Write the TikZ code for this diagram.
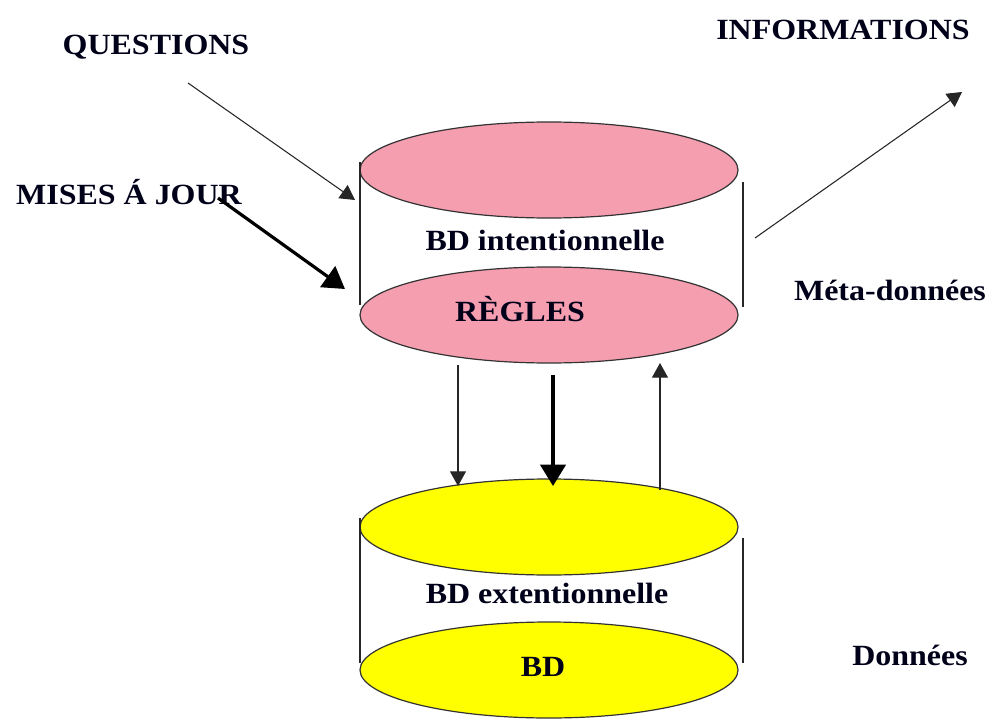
\documentclass[tikz,border=0pt]{standalone}
\usepackage{fontspec}
\setmainfont{Liberation Serif}
\usetikzlibrary{shapes.geometric,arrows.meta}
\definecolor{rosebd}{RGB}{245,158,176}
\definecolor{jaunebd}{RGB}{255,255,0}
\newcommand{\lbl}[1]{\scalebox{1.09}[1]{#1}}
\tikzset{
  disque/.style={ellipse, draw=black!80, line width=0.9pt,
    minimum width=378*0.75pt, minimum height=96*0.75pt, inner sep=0pt},
  rose/.style={disque, fill=rosebd},
  jaune/.style={disque, fill=jaunebd},
  paroi/.style={draw=black!85, line width=0.9pt},
  etiquette/.style={font=\fontsize{22}{26}\selectfont\bfseries, text=black!90!blue, inner sep=0pt},
  fleche/.style={draw=black!85, line width=0.8pt, -{Triangle[length=11pt,width=12pt]}},
  grossefleche/.style={draw=black, line width=2.4pt, -{Triangle[length=16pt,width=19pt]}},
}
\begin{document}
\begin{tikzpicture}[x=0.75pt,y=-0.75pt]
  \useasboundingbox (0,0) rectangle (991,720);

  % upper cylinder: intentional database
  \node[rose] (haut) at (549,170) {};
  \node[rose] (regles) at (549,315) {};
  \draw[paroi] (360,162) coordinate (hg1) -- (360,305) coordinate (hg2);
  \draw[paroi] (743,182) coordinate (hd1) -- (743,307) coordinate (hd2);
  \node[etiquette] (intent) at (545,240) {\lbl{BD intentionnelle}};
  \node[etiquette] (reglestxt) at (520,309) {\lbl{RÈGLES}};

  % lower cylinder: extensional database
  \node[jaune] (ext) at (549,527) {};
  \node[jaune] (bd) at (549,670) {};
  \draw[paroi] (360,518) coordinate (bg1) -- (360,663) coordinate (bg2);
  \draw[paroi] (743,538) coordinate (bd1) -- (743,663) coordinate (bd2);
  \node[etiquette] (extent) at (547,593) {\lbl{BD extentionnelle}};
  \node[etiquette] (bdtxt) at (543,667) {\lbl{BD}};

  % outer labels
  \node[etiquette] (questions) at (156,47) {\lbl{QUESTIONS}};
  \node[etiquette] (maj) at (129,192) {\lbl{MISES Á JOUR}};
  \node[etiquette] (infos) at (843,30) {\lbl{INFORMATIONS}};
  \node[etiquette] (meta) at (890,290) {\lbl{Méta-données}};
  \node[etiquette] (donnees) at (910,655) {\lbl{Données}};

  % connector end points
  \coordinate (q0) at (188,83);
  \coordinate (q1) at (355,200);
  \coordinate (m0) at (218,198);
  \coordinate (m1) at (345,289);
  \coordinate (i0) at (755,238);
  \coordinate (i1) at (962,92);
  \coordinate (d0) at (458,365);
  \coordinate (d1) at (458,486);
  \coordinate (e0) at (553,375);
  \coordinate (e1) at (553,486);
  \coordinate (u0) at (660,490);
  \coordinate (u1) at (660,363);

  % flows
  \draw[fleche] (q0) -- (q1);
  \draw[grossefleche] (m0) -- (m1);
  \draw[fleche] (i0) -- (i1);
  \draw[fleche] (d0) -- (d1);
  \draw[grossefleche] (e0) -- (e1);
  \draw[fleche] (u0) -- (u1);
\end{tikzpicture}
\end{document}
